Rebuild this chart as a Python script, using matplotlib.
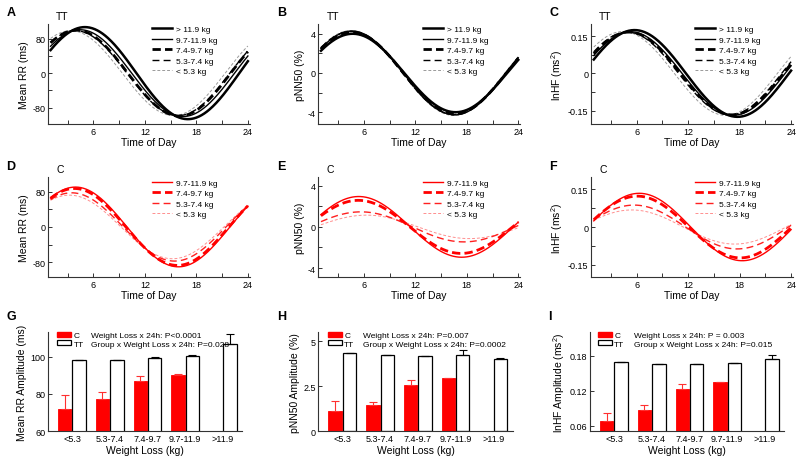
import numpy as np
import matplotlib
matplotlib.use("Agg")
import matplotlib.pyplot as plt
from matplotlib.patches import Patch

plt.rcParams['font.family'] = ['Liberation Sans', 'DejaVu Sans']
plt.rcParams['mathtext.default'] = 'regular'
plt.rcParams['axes.unicode_minus'] = False

# ---------------- data ----------------
groups = ['<5.3', '5.3-7.4', '7.4-9.7', '9.7-11.9', '>11.9']

# amplitude bar data (C has no >11.9 group)
rr_c = [72.0, 77.3, 87.1, 90.3]
rr_c_err = [7.2, 3.8, 2.3, 0.3]
rr_tt = [98.2, 98.2, 99.3, 100.4, 106.5]
rr_tt_err = [0.2, 0.2, 0.3, 0.2, 5.5]

pnn_c = [1.14, 1.46, 2.58, 2.95]
pnn_c_err = [0.54, 0.20, 0.28, 0.02]
pnn_tt = [4.32, 4.23, 4.17, 4.26, 3.99]
pnn_tt_err = [0.03, 0.02, 0.02, 0.26, 0.09]

hf_c = [0.0679, 0.0872, 0.1228, 0.1341]
hf_c_err = [0.013, 0.0079, 0.0079, 0.0005]
hf_tt = [0.1681, 0.1658, 0.1658, 0.1670, 0.1738]
hf_tt_err = [0.0011, 0.0005, 0.0005, 0.0005, 0.0079]

# cosinor acrophases (hour of peak), ordered as groups
rr_tt_acro = [3.35, 3.9, 4.0, 4.45, 5.0]
pnn_tt_acro = [4.5, 4.5, 4.6, 4.6, 4.7]
hf_tt_acro = [4.4, 4.9, 5.1, 5.3, 5.75]
rr_c_acro = [3.2, 3.45, 3.78, 3.9]
pnn_c_acro = [6.3, 5.65, 5.35, 5.4]
hf_c_acro = [5.43, 5.7, 6.08, 6.3]

tt_labels = ['< 5.3 kg', '5.3-7.4 kg', '7.4-9.7 kg', '9.7-11.9 kg', '> 11.9 kg']
c_labels = tt_labels[:4]

# ---------------- styles ----------------
tt_styles = [
    dict(color='#9a9a9a', lw=0.7, dashes=(3, 2)),
    dict(color='black', lw=1.0, dashes=(5, 3)),
    dict(color='black', lw=2.0, dashes=(3, 1.5)),
    dict(color='black', lw=1.0),
    dict(color='black', lw=1.8),
]
c_styles = [
    dict(color='#ff8f8f', lw=0.7, dashes=(3, 2)),
    dict(color='#ff2020', lw=1.0, dashes=(5, 3)),
    dict(color='#ff0000', lw=2.0, dashes=(3, 1.5)),
    dict(color='#ff0000', lw=1.0),
]

fig = plt.figure(figsize=(8, 4.6), dpi=100)

t = np.linspace(1, 24, 300)


def style_axes(ax):
    for s in ['top', 'right']:
        ax.spines[s].set_visible(False)
    for s in ['left', 'bottom']:
        ax.spines[s].set_linewidth(0.8)
        ax.spines[s].set_color('#333333')
    ax.tick_params(which='both', direction='in', length=3, width=0.7,
                   labelsize=6.5, pad=2, color='#333333')


def curve_panel(rect, amps, acros, styles, labels, ylim, yt, ytl, yminor,
                ylabel, letter, grp, leg_xy):
    ax = fig.add_axes(rect)
    style_axes(ax)
    for a, ph, st, lab in zip(amps, acros, styles, labels):
        y = a * np.cos(2 * np.pi * (t - ph) / 24.0)
        ax.plot(t, y, label=lab, **st)
    ax.set_xlim(0.7, 24.2)
    ax.set_ylim(*ylim)
    ax.set_xticks([6, 12, 18, 24])
    ax.set_xticks([3, 9, 15, 21], minor=True)
    ax.set_yticks(yt)
    ax.set_yticklabels(ytl)
    ax.set_yticks(yminor, minor=True)
    ax.set_xlabel('Time of Day', fontsize=7.5, labelpad=1)
    ax.set_ylabel(ylabel, fontsize=7.5, labelpad=2)
    h, l = ax.get_legend_handles_labels()
    ax.legend(h[::-1], l[::-1], loc='upper left', bbox_to_anchor=leg_xy,
              bbox_transform=fig.transFigure, frameon=False, fontsize=6,
              borderpad=0, borderaxespad=0, handlelength=2.4,
              handletextpad=0.5, labelspacing=0.32)
    fig.text(rect[0] - 0.052, rect[1] + rect[3] + 0.026, letter,
             fontsize=9, fontweight='bold', va='center', ha='left')
    ax.text(0.04, 1.08, grp, transform=ax.transAxes, fontsize=7.5,
            va='center', ha='left')
    return ax


def bar_panel(rect, c_vals, c_err, tt_vals, tt_err, ylim, yt, ytl, ylabel,
              letter, texts, leg_xy, txt_x):
    ax = fig.add_axes(rect)
    style_axes(ax)
    x = np.arange(len(groups))
    w = 0.355
    xc = x[:len(c_vals)] - 0.19
    xt = x + 0.19
    ax.bar(xc, c_vals, width=w, color='#ff0000', edgecolor='#ff0000',
           linewidth=0.6, label='C')
    ax.bar(xt, tt_vals, width=w, color='white', edgecolor='black',
           linewidth=0.9, label='TT')
    ax.errorbar(xc, c_vals, yerr=[np.zeros(len(c_vals)), c_err], fmt='none',
                ecolor='#ff3030', elinewidth=0.8, capsize=3, capthick=0.8)
    ax.errorbar(xt, tt_vals, yerr=[np.zeros(len(tt_vals)), tt_err],
                fmt='none', ecolor='black', elinewidth=0.8, capsize=3,
                capthick=0.8)
    ax.set_xlim(-0.635, 4.52)
    ax.set_ylim(*ylim)
    ax.set_xticks(x)
    ax.set_xticklabels(groups)
    ax.tick_params(axis='x', length=0, pad=2)
    ax.set_yticks(yt)
    ax.set_yticklabels(ytl)
    ax.set_xlabel('Weight Loss (kg)', fontsize=7.5, labelpad=1)
    ax.set_ylabel(ylabel, fontsize=7.5, labelpad=2)
    handles = [Patch(facecolor='#ff0000', edgecolor='#ff0000'),
               Patch(facecolor='white', edgecolor='black', linewidth=0.9)]
    ax.legend(handles, ['C', 'TT'], loc='upper left', bbox_to_anchor=leg_xy,
              bbox_transform=fig.transFigure, frameon=False, fontsize=6,
              borderpad=0, borderaxespad=0, handlelength=1.7,
              handleheight=0.6, handletextpad=0.25, labelspacing=0.1)
    for i, s in enumerate(texts):
        fig.text(txt_x, 0.2685 - i * 0.0205, s, fontsize=6, va='center',
                 ha='left')
    fig.text(rect[0] - 0.052, rect[1] + rect[3] + 0.035, letter,
             fontsize=9, fontweight='bold', va='center', ha='left')
    return ax


W = 0.252
lefts = [0.060, 0.398, 0.739]
row1, row2, H = 0.728, 0.395, 0.217

curve_panel([lefts[0], row1, W, H], rr_tt, rr_tt_acro, tt_styles, tt_labels,
            (-118, 113), [-80, 0, 80], ['-80', '0', '80'], [-40, 40],
            'Mean RR (ms)', 'A', 'TT', (0.19, 0.9424))
curve_panel([lefts[1], row1, W, H], pnn_tt, pnn_tt_acro, tt_styles, tt_labels,
            (-5.2, 4.95), [-4, 0, 4], ['-4', '0', '4'], [-2, 2],
            'pNN50 (%)', 'B', 'TT', (0.529, 0.9424))
curve_panel([lefts[2], row1, W, H], hf_tt, hf_tt_acro, tt_styles, tt_labels,
            (-0.203, 0.197), [-0.15, 0, 0.15], ['-0.15', '0', '0.15'],
            [-0.075, 0.075], 'lnHF (ms$^2$)', 'C', 'TT', (0.869, 0.9424))

curve_panel([lefts[0], row2, W, H], rr_c, rr_c_acro, c_styles, c_labels,
            (-114, 112), [-80, 0, 80], ['-80', '0', '80'], [-40, 40],
            'Mean RR (ms)', 'D', 'C', (0.19, 0.6087))
curve_panel([lefts[1], row2, W, H], pnn_c, pnn_c_acro, c_styles, c_labels,
            (-4.9, 4.8), [-4, 0, 4], ['-4', '0', '4'], [-2, 2],
            'pNN50 (%)', 'E', 'C', (0.529, 0.6087))
curve_panel([lefts[2], row2, W, H], hf_c, hf_c_acro, c_styles, c_labels,
            (-0.2, 0.197), [-0.15, 0, 0.15], ['-0.15', '0', '0.15'],
            [-0.075, 0.075], 'lnHF (ms$^2$)', 'F', 'C', (0.869, 0.6087))

BW = 0.243
row3 = 0.0598
bar_panel([0.060, row3, BW, 0.216], rr_c, rr_c_err, rr_tt, rr_tt_err,
          (60, 113), [60, 80, 100], ['60', '80', '100'],
          'Mean RR Amplitude (ms)', 'G',
          ['Weight Loss x 24h: P<0.0001',
           'Group x Weight Loss x 24h: P=0.028'], (0.0716, 0.277), 0.1134)
bar_panel([0.398, row3, BW, 0.216], pnn_c, pnn_c_err, pnn_tt, pnn_tt_err,
          (0, 5.5), [0, 2.5, 5], ['0', '2.5', '5'],
          'pNN50 Amplitude (%)', 'H',
          ['Weight Loss x 24h: P=0.007',
           'Group x Weight Loss x 24h: P=0.0002'], (0.410, 0.277), 0.4534)
bar_panel([0.7375, row3, BW, 0.216], hf_c, hf_c_err, hf_tt, hf_tt_err,
          (0.05, 0.22), [0.06, 0.12, 0.18], ['0.06', '0.12', '0.18'],
          'lnHF Amplitude (ms$^2$)', 'I',
          ['Weight Loss x 24h: P = 0.003',
           'Group x Weight Loss x 24h: P=0.015'], (0.7475, 0.277), 0.7925)

fig.savefig('out.png', dpi=100)
